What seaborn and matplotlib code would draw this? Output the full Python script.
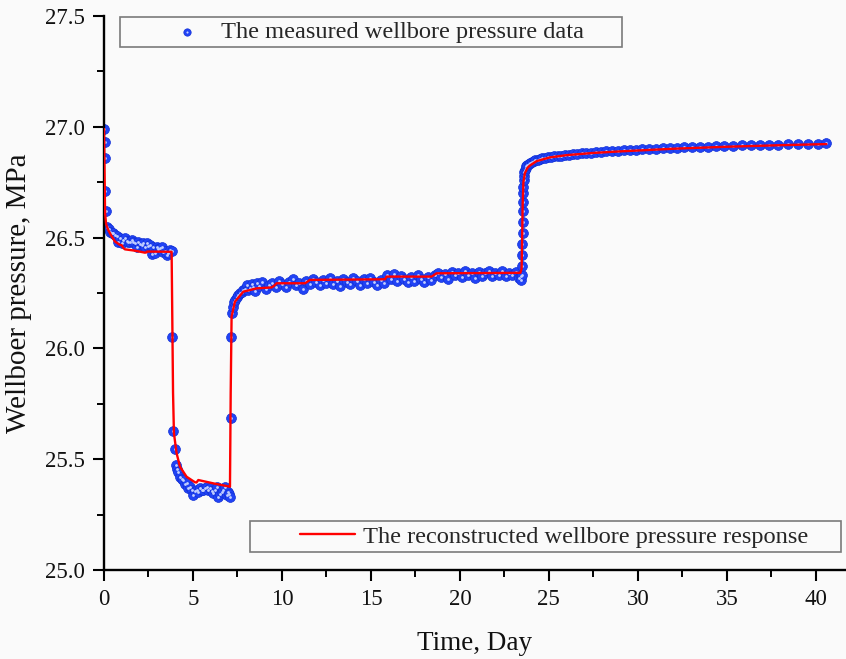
import matplotlib
matplotlib.use("Agg")
import matplotlib.pyplot as plt
import seaborn as sns
import pandas as pd
from matplotlib.patches import Rectangle
from matplotlib.ticker import MultipleLocator, FormatStrFormatter
from matplotlib.legend_handler import HandlerTuple

# ---- measured wellbore pressure (day, MPa) ----
meas_time = [
    0.02, 0.04, 0.06, 0.08, 0.12, 0.18, 0.26, 0.34, 0.43, 0.52, 0.62, 0.71, 0.80, 0.90,
    0.99, 1.08, 1.18, 1.27, 1.37, 1.46, 1.55, 1.65, 1.74, 1.84, 1.93, 2.02, 2.12, 2.21,
    2.30, 2.40, 2.49, 2.58, 2.68, 2.77, 2.87, 2.96, 3.06, 3.15, 3.24, 3.33, 3.43, 3.52,
    3.61, 3.71, 3.80,
    3.82, 3.89, 3.99, 4.04, 4.10, 4.17, 4.27, 4.36, 4.46, 4.55, 4.64, 4.74, 4.83, 4.92,
    5.02, 5.11, 5.20, 5.30, 5.39, 5.49, 5.58, 5.68, 5.77, 5.86, 5.96, 6.05, 6.14, 6.24,
    6.33, 6.42, 6.52, 6.61, 6.70, 6.80, 6.89, 6.98, 7.05, 7.10,
    7.12, 7.14, 7.17, 7.23, 7.30, 7.37, 7.45, 7.54, 7.64, 7.73, 7.83, 7.92, 8.01, 8.11,
    8.20, 8.30, 8.39, 8.49, 8.58,
    8.70, 8.89, 9.08, 9.27, 9.46, 9.65, 9.84, 10.03, 10.22, 10.41, 10.60, 10.79, 10.98,
    11.17, 11.36, 11.55, 11.74, 11.93, 12.12, 12.31, 12.50, 12.69, 12.88, 13.07, 13.26,
    13.45, 13.64, 13.83, 14.02, 14.21, 14.40, 14.59, 14.78, 14.97, 15.16, 15.35, 15.54,
    15.73, 15.92, 16.11, 16.30, 16.49, 16.68, 16.87, 17.06, 17.25, 17.44, 17.63, 17.82,
    18.01, 18.20, 18.39, 18.58, 18.77, 18.96, 19.15, 19.34, 19.53, 19.72, 19.91, 20.10,
    20.29, 20.48, 20.67, 20.86, 21.05, 21.24, 21.43, 21.62, 21.81, 22.00, 22.19, 22.38,
    22.57, 22.76, 22.95, 23.14, 23.30, 23.42,
    23.46, 23.48, 23.49, 23.50, 23.51, 23.52, 23.53, 23.54, 23.55, 23.56, 23.57, 23.58,
    23.60, 23.62, 23.65, 23.69, 23.74, 23.80, 23.87, 23.95, 24.04, 24.14, 24.25, 24.37,
    24.50, 24.64, 24.79, 24.95, 25.12, 25.30, 25.49, 25.69, 25.90, 26.12, 26.35, 26.59,
    26.84, 27.10, 27.37, 27.65, 27.94, 28.24, 28.55, 28.87, 29.20, 29.54, 29.89, 30.25,
    30.62, 31.00, 31.39, 31.79, 32.20, 32.62, 33.05, 33.49, 33.94, 34.40, 34.87, 35.35,
    35.84, 36.34, 36.85, 37.37, 37.90, 38.44, 38.99, 39.55, 40.12, 40.60,
]
meas_pressure = [
    26.990, 26.930, 26.860, 26.710, 26.620, 26.550, 26.540, 26.527, 26.520, 26.519, 26.510,
    26.507, 26.482, 26.497, 26.474, 26.490, 26.500, 26.486, 26.482, 26.478, 26.489, 26.480,
    26.474, 26.459, 26.482, 26.470, 26.467, 26.475, 26.459, 26.474, 26.460, 26.467, 26.426,
    26.456, 26.429, 26.459, 26.450, 26.452, 26.459, 26.436, 26.440, 26.421, 26.429, 26.445,
    26.440,
    26.053, 25.629, 25.545, 25.474, 25.455, 25.444, 25.421, 25.410, 25.406, 25.390, 25.391,
    25.370, 25.376, 25.360, 25.338, 25.355, 25.361, 25.350, 25.369, 25.360, 25.361, 25.370,
    25.376, 25.360, 25.369, 25.355, 25.346, 25.360, 25.376, 25.331, 25.345, 25.353, 25.360,
    25.376, 25.340, 25.353, 25.345, 25.331,
    25.685, 26.053, 26.158, 26.185, 26.211, 26.220, 26.231, 26.240, 26.249, 26.255, 26.264,
    26.270, 26.286, 26.262, 26.271, 26.290, 26.278, 26.260, 26.294,
    26.282, 26.300, 26.268, 26.285, 26.296, 26.275, 26.305, 26.290, 26.278, 26.300, 26.312,
    26.285, 26.297, 26.270, 26.305, 26.292, 26.315, 26.300, 26.285, 26.310, 26.296, 26.318,
    26.290, 26.306, 26.282, 26.312, 26.300, 26.292, 26.318, 26.305, 26.288, 26.312, 26.296,
    26.318, 26.300, 26.285, 26.310, 26.296, 26.330, 26.315, 26.336, 26.305, 26.325, 26.312,
    26.298, 26.322, 26.306, 26.330, 26.315, 26.300, 26.322, 26.310, 26.332, 26.342, 26.320,
    26.335, 26.315, 26.345, 26.330, 26.338, 26.322, 26.348, 26.330, 26.340, 26.318, 26.344,
    26.328, 26.338, 26.350, 26.326, 26.342, 26.332, 26.348, 26.325, 26.340, 26.330, 26.345,
    26.318, 26.325,
    26.310, 26.330, 26.370, 26.420, 26.470, 26.520, 26.570, 26.620, 26.660, 26.700, 26.730,
    26.760, 26.780, 26.795, 26.805, 26.815, 26.822, 26.828, 26.833, 26.838, 26.842, 26.846,
    26.849, 26.852, 26.855, 26.858, 26.860, 26.862, 26.864, 26.866, 26.868, 26.870, 26.872,
    26.874, 26.876, 26.878, 26.880, 26.882, 26.884, 26.886, 26.888, 26.889, 26.891, 26.893,
    26.894, 26.896, 26.897, 26.899, 26.900, 26.902, 26.903, 26.905, 26.906, 26.907, 26.909,
    26.910, 26.911, 26.912, 26.913, 26.915, 26.916, 26.917, 26.918, 26.919, 26.920, 26.921,
    26.922, 26.923, 26.924, 26.925,
]

# ---- reconstructed wellbore pressure response (day, MPa) ----
fit_time = [
    0.00, 0.03, 0.06, 0.12, 0.24, 0.40, 0.62, 0.90, 0.99, 1.10, 1.18, 1.74, 2.30, 2.38,
    2.42, 3.80, 3.83, 3.88, 3.93, 4.08, 4.27, 4.64, 5.11, 5.20, 5.30, 6.20, 7.08, 7.12,
    7.17, 7.36, 7.83, 8.58, 9.42, 9.55, 9.70, 11.30, 11.45, 11.57, 14.40, 15.79, 15.88,
    18.41, 18.69, 23.40, 23.47, 23.50, 23.53, 23.57, 23.65, 23.80, 23.93, 24.31, 25.06,
    25.99, 27.49, 29.00, 32.00, 35.00, 38.00, 40.60,
]
fit_pressure = [
    26.990, 26.800, 26.610, 26.560, 26.534, 26.510, 26.482, 26.467, 26.466, 26.452, 26.447,
    26.441, 26.432, 26.433, 26.437, 26.436, 26.200, 25.800, 25.617, 25.527, 25.466, 25.421,
    25.396, 25.395, 25.406, 25.390, 25.376, 25.800, 26.143, 26.211, 26.256, 26.271, 26.275,
    26.282, 26.294, 26.294, 26.302, 26.309, 26.311, 26.312, 26.324, 26.324, 26.339, 26.341,
    26.360, 26.500, 26.650, 26.750, 26.790, 26.815, 26.825, 26.845, 26.862, 26.872, 26.882,
    26.889, 26.901, 26.910, 26.917, 26.922,
]

measured_label = "The measured wellbore pressure data"
fit_label = "The reconstructed wellbore pressure response"
x_label = "Time, Day"
y_label = "Wellboer pressure, MPa"

measured = pd.DataFrame({"time": meas_time, "pressure": meas_pressure})
fitted = pd.DataFrame({"time": fit_time, "pressure": fit_pressure})

BG = "#fafafa"
W, H = 846, 659

sns.set_theme(style="ticks")
plt.rcParams["font.family"] = ["Liberation Serif", "DejaVu Serif"]

fig = plt.figure(figsize=(W / 100, H / 100), dpi=100, facecolor=BG)
ax = fig.add_axes([104 / W, 1 - 570 / H, 742 / W, 554 / H], facecolor=BG)


def fx(px):
    return px / W


def fy(py):
    return 1 - py / H


# measured points: blue spheres with a light highlight
sns.scatterplot(data=measured, x="time", y="pressure", ax=ax, s=50,
                color="#2143f5", edgecolor="#1331d6", linewidth=0.5,
                zorder=2, legend=False)
sns.scatterplot(data=measured, x="time", y="pressure", ax=ax, s=4,
                color="#c4d0ff", linewidth=0, zorder=2.5, legend=False)
dots, shine = ax.collections[0], ax.collections[1]

# reconstructed response
sns.lineplot(data=fitted, x="time", y="pressure", ax=ax, color="#ff0000",
             linewidth=1.7, sort=False, estimator=None, zorder=3, legend=False)
fit_line = ax.lines[0]

ax.set_xlim(0, 41.7)
ax.set_ylim(25.0, 27.5)
ax.xaxis.set_major_locator(MultipleLocator(5))
ax.xaxis.set_minor_locator(MultipleLocator(2.5))
ax.yaxis.set_major_locator(MultipleLocator(0.5))
ax.yaxis.set_minor_locator(MultipleLocator(0.25))
ax.yaxis.set_major_formatter(FormatStrFormatter("%.1f"))

for side in ("top", "right"):
    ax.spines[side].set_visible(False)
for side in ("left", "bottom"):
    ax.spines[side].set_linewidth(1.7)
    ax.spines[side].set_color("black")

ax.tick_params(which="major", direction="out", length=8, width=1.5,
               labelsize=16.5, pad=6, color="black", labelcolor="#111111")
ax.tick_params(which="minor", direction="out", length=5, width=1.4, color="black")

ax.set_xlabel(x_label, fontsize=19.5, labelpad=15, color="#111111")
ax.set_ylabel(y_label, fontsize=21, labelpad=9, color="#111111")

# legend frames
fig.add_artist(Rectangle((fx(120), fy(47)), (622 - 120) / W, (47 - 17) / H,
                         transform=fig.transFigure, fill=False,
                         edgecolor="#7a7a7a", linewidth=1.2, zorder=5))
fig.add_artist(Rectangle((fx(250), fy(552)), (841 - 250) / W, (552 - 521) / H,
                         transform=fig.transFigure, fill=False,
                         edgecolor="#7a7a7a", linewidth=1.2, zorder=5))

leg1 = ax.legend(handles=[(dots, shine)], labels=[measured_label],
                 loc="center left", bbox_to_anchor=(fx(175), fy(32)),
                 bbox_transform=fig.transFigure, frameon=False, fontsize=17.6,
                 handlelength=0.95, handletextpad=0.92, borderpad=0,
                 borderaxespad=0, scatterpoints=1, markerscale=0.75,
                 handler_map={tuple: HandlerTuple(ndivide=1, pad=0)})
ax.add_artist(leg1)
ax.legend(handles=[fit_line], labels=[fit_label],
          loc="center left", bbox_to_anchor=(fx(300), fy(536.5)),
          bbox_transform=fig.transFigure, frameon=False, fontsize=17.6,
          handlelength=2.25, handletextpad=0.33, borderpad=0, borderaxespad=0)

fig.savefig("out.png", dpi=100, facecolor=BG)
